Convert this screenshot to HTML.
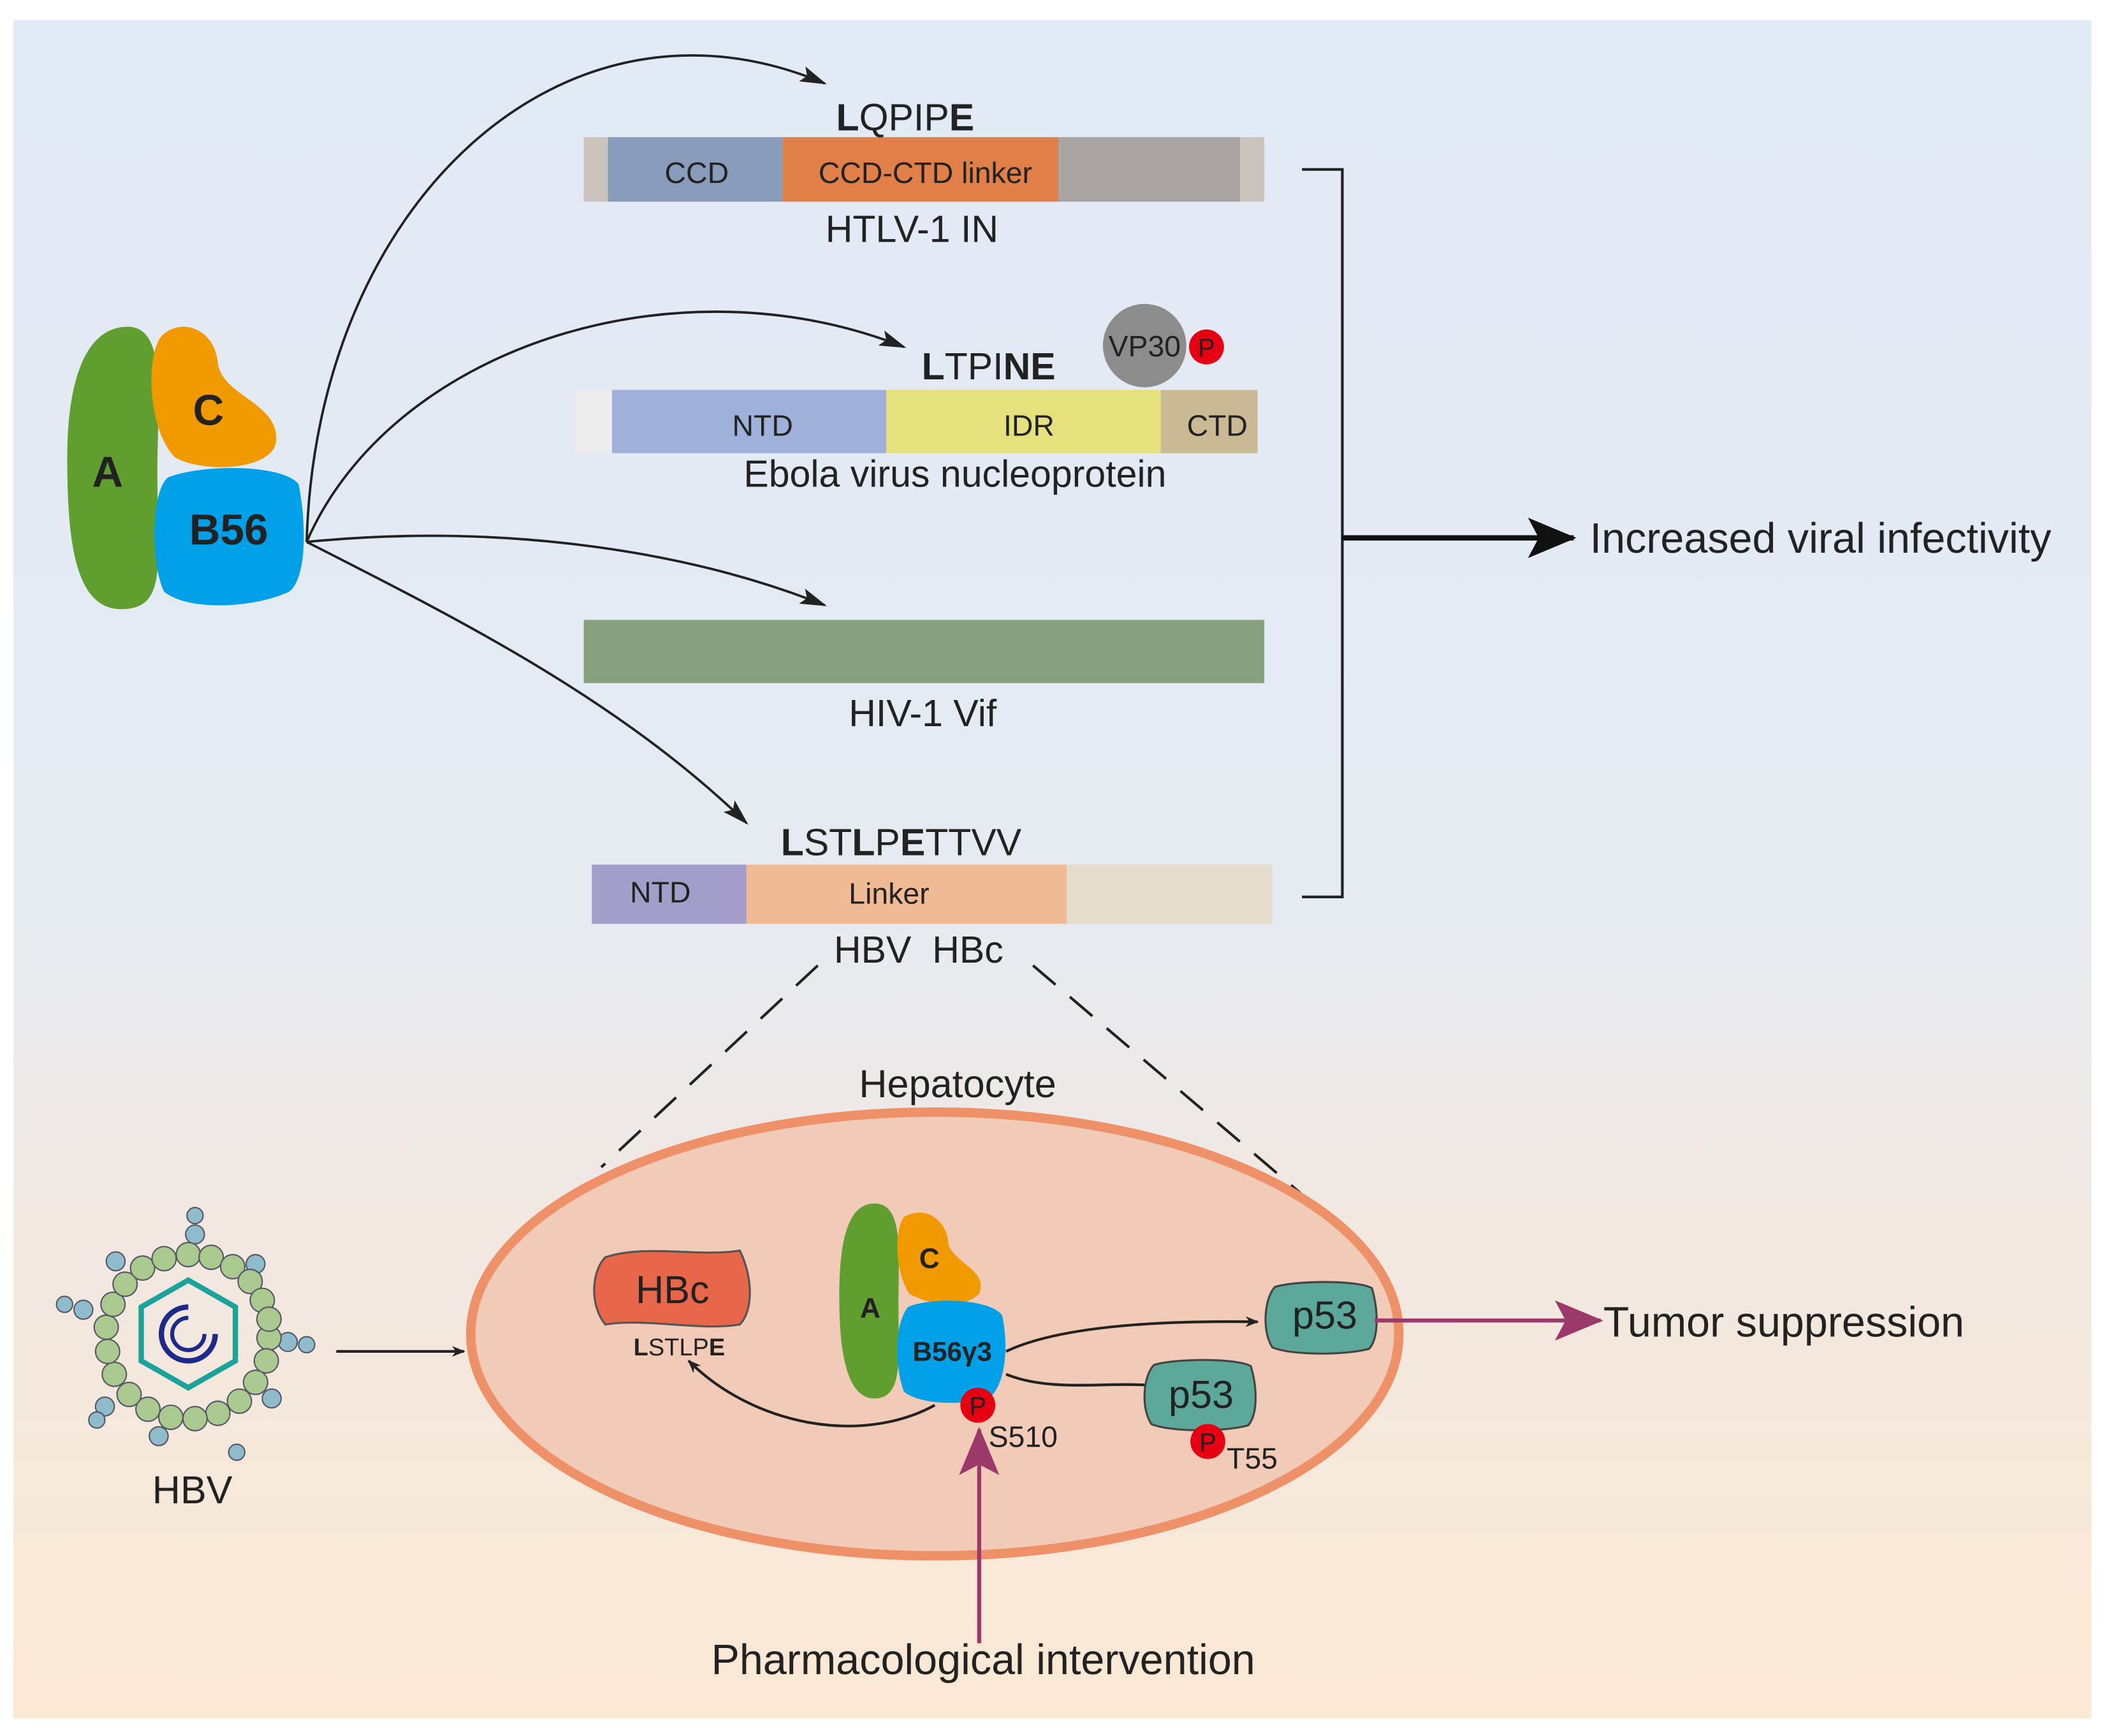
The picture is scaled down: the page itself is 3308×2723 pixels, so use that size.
<!DOCTYPE html>
<html><head><meta charset="utf-8"><style>
html,body{margin:0;padding:0;background:#fff;}
svg{display:block;}
text{font-family:"Liberation Sans",sans-serif;fill:#222;}
</style></head><body>
<svg width="3308" height="2723" viewBox="0 0 1568 1291" preserveAspectRatio="none" xmlns="http://www.w3.org/2000/svg">
<defs>
<linearGradient id="bg" x1="0" y1="0" x2="0" y2="1">
<stop offset="0" stop-color="#e2eaf6"/>
<stop offset="0.52" stop-color="#e6ebf2"/>
<stop offset="0.7" stop-color="#f1e8e2"/>
<stop offset="1" stop-color="#fae8d3"/>
</linearGradient>
<marker id="ah" markerWidth="10" markerHeight="8" refX="9" refY="4" orient="auto" markerUnits="userSpaceOnUse"><path d="M0,0 L10,4 L0,8 L3,4z" fill="#222"/></marker>
<marker id="ahs" markerWidth="20" markerHeight="12" refX="18" refY="6" orient="auto" markerUnits="userSpaceOnUse"><path d="M0,0 L20,6 L0,12 L4,6z" fill="#222"/></marker>
<marker id="ahb" markerWidth="36" markerHeight="30" refX="34" refY="15" orient="auto" markerUnits="userSpaceOnUse"><path d="M0,0 L36,15 L0,30 L8,15z" fill="#111"/></marker>
<marker id="ahp" markerWidth="36" markerHeight="30" refX="34" refY="15" orient="auto" markerUnits="userSpaceOnUse"><path d="M0,0 L36,15 L0,30 L8,15z" fill="#9b3a6a"/></marker>
</defs>
<rect x="10" y="15" width="1545" height="1263" fill="url(#bg)"/>

<!-- PP2A top -->
<path d="M95,243 C125,243 117,300 117,350 C117,420 125,453 90,453 C55,453 50,400 50,340 C50,280 65,243 95,243z" fill="#5f9e2f"/>
<path d="M120,250 C135,235 160,245 162,270 C165,295 210,300 205,330 C200,350 150,352 130,340 C110,320 108,265 120,250z" fill="#f09a00"/>
<path d="M125,355 C150,345 210,345 222,360 C228,390 228,430 215,440 C190,452 140,455 122,440 C112,420 112,365 125,355z" fill="#00a0e9"/>
<text x="80" y="362" font-size="32" font-weight="bold" text-anchor="middle">A</text>
<text x="155" y="316" font-size="32" font-weight="bold" text-anchor="middle">C</text>
<text x="170" y="405" font-size="32" font-weight="bold" text-anchor="middle">B56</text>

<!-- curves -->
<g fill="none" stroke="#222" stroke-width="1.8">
<path d="M228,403 C235,150 420,-20 613,62" marker-end="url(#ahs)"/>
<path d="M228,403 C290,260 500,190 672,258" marker-end="url(#ahs)"/>
<path d="M228,403 C360,390 500,405 613,450" marker-end="url(#ahs)"/>
<path d="M228,403 C340,460 460,520 555,612" marker-end="url(#ahs)"/>
</g>

<!-- HTLV -->
<rect x="434" y="102" width="506" height="48" fill="#cbc4bd"/>
<rect x="452" y="102" width="130" height="48" fill="#8a9cbb"/>
<rect x="582" y="102" width="205" height="48" fill="#e07f48"/>
<rect x="787" y="102" width="135" height="48" fill="#a9a3a1"/>
<text x="518" y="136" font-size="22" text-anchor="middle" fill="#333">CCD</text>
<text x="688" y="136" font-size="22" text-anchor="middle" fill="#333">CCD-CTD linker</text>
<text x="673" y="97" font-size="28" text-anchor="middle"><tspan font-weight="bold">L</tspan>QPIP<tspan font-weight="bold">E</tspan></text>
<text x="678" y="180" font-size="28" text-anchor="middle">HTLV-1 IN</text>

<!-- Ebola -->
<rect x="428" y="290" width="27" height="47" fill="#ececec"/>
<rect x="455" y="290" width="204" height="47" fill="#9fb1db"/>
<rect x="659" y="290" width="204" height="47" fill="#e5e27e"/>
<rect x="863" y="290" width="72" height="47" fill="#c9b995"/>
<text x="567" y="324" font-size="22" text-anchor="middle" fill="#333">NTD</text>
<text x="765" y="324" font-size="22" text-anchor="middle" fill="#333">IDR</text>
<text x="905" y="324" font-size="22" text-anchor="middle" fill="#333">CTD</text>
<text x="735" y="282" font-size="28" text-anchor="middle"><tspan font-weight="bold">L</tspan>TPI<tspan font-weight="bold">N</tspan><tspan font-weight="bold">E</tspan></text>
<circle cx="851" cy="257" r="31" fill="#8c8c8c"/>
<text x="851" y="265" font-size="22" text-anchor="middle" fill="#333">VP30</text>
<circle cx="897" cy="258" r="13" fill="#e60012"/>
<text x="897" y="265" font-size="19" text-anchor="middle" fill="#fff">P</text>
<text x="710" y="362" font-size="28" text-anchor="middle">Ebola virus nucleoprotein</text>

<!-- HIV -->
<rect x="434" y="461" width="506" height="47" fill="#86a080"/>
<text x="686" y="540" font-size="28" text-anchor="middle">HIV-1 Vif</text>

<!-- HBc -->
<rect x="440" y="643" width="115" height="44" fill="#a29dc9"/>
<rect x="555" y="643" width="238" height="44" fill="#f0bb94"/>
<rect x="793" y="643" width="153" height="44" fill="#e4dccd"/>
<text x="491" y="671" font-size="22" text-anchor="middle" fill="#333">NTD</text>
<text x="661" y="672" font-size="22" text-anchor="middle" fill="#333">Linker</text>
<text x="670" y="636" font-size="28" text-anchor="middle"><tspan font-weight="bold">L</tspan>ST<tspan font-weight="bold">L</tspan>P<tspan font-weight="bold">E</tspan>TTVV</text>
<text x="683" y="716" font-size="28" text-anchor="middle" xml:space="preserve">HBV  HBc</text>

<!-- bracket -->
<path d="M968,126 H998 V667 H968" fill="none" stroke="#222" stroke-width="2"/>
<line x1="998" y1="400" x2="1170" y2="400" stroke="#111" stroke-width="4" marker-end="url(#ahb)"/>
<text x="1182" y="411" font-size="31.5">Increased viral infectivity</text>

<!-- dashed -->
<g stroke="#222" stroke-width="2" stroke-dasharray="22,14" fill="none">
<line x1="608" y1="718" x2="447" y2="868"/>
<line x1="768" y1="718" x2="970" y2="890"/>
</g>
<text x="712" y="816" font-size="29" text-anchor="middle">Hepatocyte</text>

<!-- cell -->
<ellipse cx="695" cy="992" rx="345" ry="165" fill="#f2cbb8" stroke="#ee9068" stroke-width="7"/>

<!-- HBV particle -->
<g>
<g fill="#8fbccc" stroke="#556" stroke-width="1">
<circle cx="145" cy="904" r="6"/><circle cx="145" cy="918" r="7"/><circle cx="190" cy="940" r="7"/><circle cx="214" cy="998" r="7"/><circle cx="228" cy="1000" r="6"/><circle cx="202" cy="1040" r="7"/><circle cx="118" cy="1068" r="7"/><circle cx="176" cy="1080" r="6"/><circle cx="78" cy="1046" r="7"/><circle cx="72" cy="1056" r="6"/><circle cx="62" cy="974" r="7"/><circle cx="48" cy="970" r="6"/><circle cx="86" cy="938" r="7"/>
</g>
<g fill="#a9c98e" stroke="#556" stroke-width="1">
<circle cx="200" cy="995" r="9"/><circle cx="198" cy="1012" r="9"/><circle cx="190" cy="1028" r="9"/><circle cx="178" cy="1042" r="9"/><circle cx="162" cy="1051" r="9"/><circle cx="145" cy="1055" r="9"/><circle cx="127" cy="1054" r="9"/><circle cx="110" cy="1048" r="9"/><circle cx="96" cy="1037" r="9"/><circle cx="85" cy="1022" r="9"/><circle cx="80" cy="1005" r="9"/><circle cx="79" cy="987" r="9"/><circle cx="84" cy="970" r="9"/><circle cx="93" cy="955" r="9"/><circle cx="106" cy="943" r="9"/><circle cx="122" cy="936" r="9"/><circle cx="140" cy="933" r="9"/><circle cx="157" cy="935" r="9"/><circle cx="173" cy="942" r="9"/><circle cx="186" cy="953" r="9"/><circle cx="195" cy="967" r="9"/><circle cx="200" cy="981" r="9"/>
</g>
<polygon points="140,952 175,972 175,1012 140,1032 105,1012 105,972" fill="none" stroke="#1aa39a" stroke-width="4"/>
<path d="M160,992 A20,20 0 1 1 140,972" fill="none" stroke="#1d2a8a" stroke-width="4"/>
<path d="M152,992 A12,12 0 1 1 140,980" fill="none" stroke="#1d2a8a" stroke-width="3"/>
<text x="143" y="1118" font-size="29" text-anchor="middle">HBV</text>
</g>
<line x1="250" y1="1005" x2="345" y2="1005" stroke="#222" stroke-width="2" marker-end="url(#ah)"/>

<!-- HBc blob -->
<path d="M450,935 C480,925 520,935 550,930 C560,950 560,975 550,985 C520,990 480,980 450,985 C438,970 440,945 450,935z" fill="#e8664a" stroke="#555" stroke-width="1.5"/>
<text x="500" y="969" font-size="29" text-anchor="middle">HBc</text>
<text x="505" y="1008" font-size="18" text-anchor="middle"><tspan font-weight="bold">L</tspan>STLP<tspan font-weight="bold">E</tspan></text>

<!-- small PP2A -->
<path d="M650,895 C672,895 668,930 668,970 C668,1010 672,1040 650,1040 C628,1040 624,1000 624,965 C624,930 628,895 650,895z" fill="#5f9e2f"/>
<path d="M672,905 C690,895 705,910 705,925 C710,940 735,945 728,962 C715,975 690,970 676,962 C665,945 665,915 672,905z" fill="#f09a00"/>
<path d="M675,972 C690,965 735,965 745,978 C750,1000 748,1030 735,1040 C715,1045 685,1045 672,1035 C665,1015 665,985 675,972z" fill="#00a0e9"/>
<text x="647" y="980" font-size="21" font-weight="bold" text-anchor="middle">A</text>
<text x="691" y="943" font-size="21" font-weight="bold" text-anchor="middle">C</text>
<text x="708" y="1012" font-size="20" font-weight="bold" text-anchor="middle">B56γ3</text>
<circle cx="727" cy="1045" r="13" fill="#e60012"/>
<text x="727" y="1052" font-size="19" text-anchor="middle" fill="#fff">P</text>
<text x="735" y="1076" font-size="22">S510</text>

<!-- arrows inside -->
<path d="M695,1045 C640,1075 560,1060 512,1012" fill="none" stroke="#222" stroke-width="2" marker-end="url(#ah)"/>
<path d="M748,1005 C790,985 870,982 935,983" fill="none" stroke="#222" stroke-width="2" marker-end="url(#ah)"/>
<path d="M748,1022 C780,1035 820,1028 852,1030" fill="none" stroke="#222" stroke-width="2"/>

<!-- p53 -->
<path d="M948,957 C965,952 1010,952 1020,958 C1025,975 1025,995 1018,1003 C1000,1008 960,1008 946,1002 C938,990 940,965 948,957z" fill="#5ca89a" stroke="#444" stroke-width="1.5"/>
<text x="985" y="988" font-size="29" text-anchor="middle">p53</text>
<path d="M858,1015 C875,1010 920,1010 930,1016 C935,1033 935,1052 928,1060 C910,1065 870,1065 856,1059 C848,1047 850,1023 858,1015z" fill="#5ca89a" stroke="#444" stroke-width="1.5"/>
<text x="893" y="1047" font-size="29" text-anchor="middle">p53</text>
<circle cx="898" cy="1072" r="13" fill="#e60012"/>
<text x="898" y="1079" font-size="19" text-anchor="middle" fill="#fff">P</text>
<text x="912" y="1092" font-size="22">T55</text>

<line x1="1022" y1="982" x2="1190" y2="982" stroke="#9b3a6a" stroke-width="3" marker-end="url(#ahp)"/>
<text x="1192" y="994" font-size="31.5">Tumor suppression</text>
<line x1="728" y1="1222" x2="728" y2="1063" stroke="#9b3a6a" stroke-width="3" marker-end="url(#ahp)"/>
<text x="731" y="1245" font-size="31.5" text-anchor="middle">Pharmacological intervention</text>
</svg>
</body></html>
